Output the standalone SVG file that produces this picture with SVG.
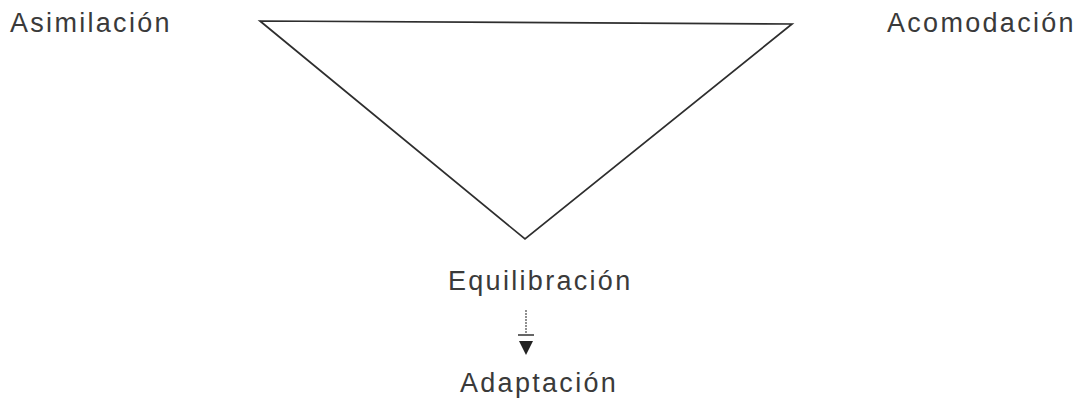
<svg xmlns="http://www.w3.org/2000/svg" width="1080" height="405" viewBox="0 0 1080 405">
<style>
.lbl{font-family:"Liberation Sans",Arial,sans-serif;font-size:27px;fill:#3a3a3a;letter-spacing:2.3px}
.edge{stroke:#2e2e2e;stroke-width:1.7;fill:none;stroke-linejoin:miter}
</style>
<rect width="1080" height="405" fill="#ffffff"/>
<g id="connectors">
<polygon class="edge" points="260,21 792,24 525,239"/>
<line x1="526" y1="310" x2="526" y2="333" stroke="#555" stroke-width="1.3" stroke-dasharray="2 1"/>
<line x1="518" y1="335" x2="534" y2="335" stroke="#333" stroke-width="1.5"/>
<polygon points="519,341 533,341 526,355" fill="#222"/>
</g>
<g id="asimilacion"><text class="lbl" x="10" y="32">Asimilación</text></g>
<g id="acomodacion"><text class="lbl" x="887" y="32">Acomodación</text></g>
<g id="equilibracion"><text class="lbl" x="448" y="290">Equilibración</text></g>
<g id="adaptacion"><text class="lbl" x="460" y="392">Adaptación</text></g>
</svg>
